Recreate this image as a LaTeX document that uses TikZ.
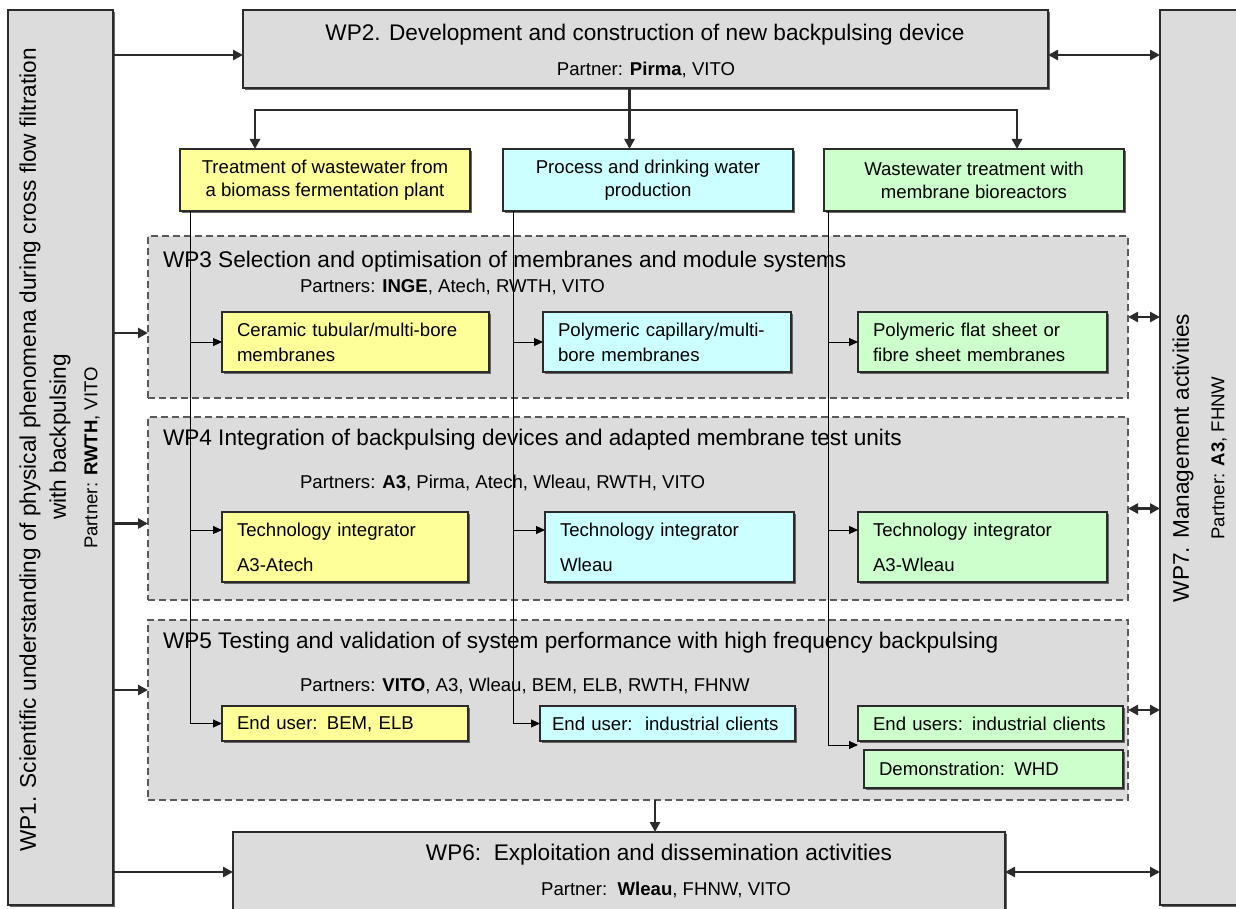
\documentclass[tikz,border=0pt]{standalone}
\usepackage{fontspec}
\setmainfont{Liberation Sans}
\usepackage{xcolor}
\usepackage{tikz}
\usetikzlibrary{calc}
\usetikzlibrary{arrows.meta}
\usetikzlibrary{shadows}

\definecolor{wpgray}{HTML}{DCDCDC}
\definecolor{wpyellow}{HTML}{FFFF99}
\definecolor{wpcyan}{HTML}{CCFFFF}
\definecolor{wpgreen}{HTML}{CCFFCC}
\definecolor{wpedge}{HTML}{2B2B2B}
\definecolor{wpdash}{HTML}{5A5A5A}

\newcommand{\wptitle}{\fontsize{22.6}{26}\selectfont}
\newcommand{\wptext}{\fontsize{18.6}{22}\selectfont}

\begin{document}
\begin{tikzpicture}[x=1pt, y=-1pt, every node/.style={inner sep=0pt, outer sep=0pt, anchor=north west},
  boxshadow/.style={drop shadow={shadow xshift=1.6pt, shadow yshift=-1.6pt, fill=black!60, opacity=1}},
  wpbox/.style={draw=wpedge, line width=1.6pt, fill=wpgray, boxshadow},
  subwp/.style={draw=wpdash, line width=2.2pt, dash pattern=on 7pt off 4pt, fill=wpgray},
  appbox/.style={draw=wpedge, line width=1.4pt, font=\wptext, boxshadow},
  topbox/.style={appbox, minimum height=62pt, align=center},
  membox/.style={appbox, minimum height=60pt, align=left, inner xsep=15pt},
  techbox/.style={appbox, minimum height=70pt, align=left, inner xsep=15pt},
  userbox/.style={appbox, minimum height=35pt, align=left, inner xsep=15pt},
  label/.style={anchor=center},
  wparrow/.style={-{Triangle[length=10pt,width=10pt]}, line width=2.8pt, draw=wpedge},
  wpboth/.style={{Triangle[length=10pt,width=10pt]}-{Triangle[length=10pt,width=10pt]}, line width=2.8pt, draw=wpedge},
  feed/.style={-{Triangle[length=9pt,width=8pt]}, line width=1pt, draw=black}]

  \useasboundingbox[fill=white] (0,0) rectangle (1236,909);

  % side work packages
  \node[wpbox, minimum width=105pt, minimum height=895pt] (wp1) at (8,10) {};
  \node[label, rotate=90] (wp1a) at (30,450) {\wptitle WP1. Scientific understanding of physical phenomena during cross flow filtration};
  \node[label, rotate=90] (wp1b) at (60,437) {\wptitle with backpulsing};
  \node[label, rotate=90] (wp1c) at (92,458) {\wptext Partner: \textbf{RWTH}, VITO};

  \node[wpbox, minimum width=100pt, minimum height=895pt] (wp7) at (1160,10) {};
  \node[label, rotate=90] (wp7a) at (1183,458) {\wptitle WP7. Management activities};
  \node[label, rotate=90] (wp7b) at (1219,458) {\wptext Partner: \textbf{A3}, FHNW};

  % WP2 and the three applications
  \node[wpbox, minimum width=805pt, minimum height=78pt] (wp2) at (243,10) {};
  \node[label] (wp2a) at (645,35) {\wptitle WP2. Development and construction of new backpulsing device};
  \node[label] (wp2b) at (646,70) {\wptext Partner: \textbf{Pirma}, VITO};

  \node[topbox, fill=wpyellow, minimum width=290pt] (top1) at (180,149) {Treatment of wastewater from\\[1pt]a biomass fermentation plant};
  \node[topbox, fill=wpcyan, minimum width=290pt] (top2) at (503,149) {Process and drinking water\\[1pt]production};
  \node[topbox, fill=wpgreen, minimum width=300pt] (top3) at (824,149) {Wastewater treatment with\\[1pt]membrane bioreactors};

  % WP3
  \node[subwp, minimum width=980pt, minimum height=162pt] (wp3) at (148,236) {};
  \node[anchor=west] (wp3a) at (163,262) {\wptitle WP3 Selection and optimisation of membranes and module systems};
  \node[anchor=west] (wp3b) at (300,287) {\wptext Partners: \textbf{INGE}, Atech, RWTH, VITO};
  \node[membox, fill=wpyellow, text width=237pt] (mem1) at (222,312) {Ceramic tubular/multi-bore\\[3pt]membranes};
  \node[membox, fill=wpcyan, text width=218pt] (mem2) at (543,312) {Polymeric capillary/multi-\\[3pt]bore membranes};
  \node[membox, fill=wpgreen, text width=219pt] (mem3) at (858,312) {Polymeric flat sheet or\\[3pt]fibre sheet membranes};

  % WP4
  \node[subwp, minimum width=980pt, minimum height=183pt] (wp4) at (148,417) {};
  \node[anchor=west] (wp4a) at (163,440) {\wptitle WP4 Integration of backpulsing devices and adapted membrane test units};
  \node[anchor=west] (wp4b) at (300,483) {\wptext Partners: \textbf{A3}, Pirma, Atech, Wleau, RWTH, VITO};
  \node[techbox, fill=wpyellow, text width=216pt] (tech1) at (222,512) {Technology integrator\\[13pt]A3-Atech};
  \node[techbox, fill=wpcyan, text width=219pt] (tech2) at (545,512) {Technology integrator\\[13pt]Wleau};
  \node[techbox, fill=wpgreen, text width=219pt] (tech3) at (858,512) {Technology integrator\\[13pt]A3-Wleau};

  % WP5
  \node[subwp, minimum width=980pt, minimum height=180pt] (wp5) at (148,620) {};
  \node[anchor=west] (wp5a) at (163,643) {\wptitle WP5 Testing and validation of system performance with high frequency backpulsing};
  \node[anchor=west] (wp5b) at (300,686) {\wptext Partners: \textbf{VITO}, A3, Wleau, BEM, ELB, RWTH, FHNW};
  \node[userbox, fill=wpyellow, text width=216pt] (end1) at (222,706) {End user: BEM, ELB};
  \node[userbox, fill=wpcyan, text width=231pt, inner xsep=12pt] (end2) at (540,706) {\mbox{End user:\ \ industrial clients}};
  \node[userbox, fill=wpgreen, text width=235pt] (end3) at (858,706) {End users: industrial clients};
  \node[userbox, fill=wpgreen, text width=229pt, minimum height=38pt] (demo) at (864,750) {Demonstration: WHD};

  % WP6
  \node[wpbox, minimum width=772pt, minimum height=90pt] (wp6) at (233,832) {};
  \node[label] (wp6a) at (659,855) {\wptitle WP6:\ \ Exploitation and dissemination activities};
  \node[label] (wp6b) at (666,890) {\wptext Partner:\ \ \textbf{Wleau}, FHNW, VITO};

  % WP1 feeds everything
  \coordinate (in3) at ($(wp3.west)+(0,16)$);
  \coordinate (in4) at ($(wp4.west)+(0,15)$);
  \coordinate (in5) at ($(wp5.west)+(0,-20)$);
  \draw[wparrow] (wp1.east |- wp2.west) ++(0,6) -- ($(wp2.west)+(0,6)$);
  \draw[wparrow] (wp1.east |- in3) -- (in3);
  \draw[wparrow] (wp1.east |- in4) -- (in4);
  \draw[wparrow] (wp1.east |- in5) -- (in5);
  \draw[wparrow] (wp1.east |- wp6.west) ++(0,-5) -- ($(wp6.west)+(0,-5)$);

  % links with WP7
  \draw[wpboth] ($(wp2.east)+(0,6)$) -- ($(wp7.west |- wp2.east)+(0,6)$);
  \draw[wpboth] (wp3.east) -- (wp7.west |- wp3.east);
  \draw[wpboth] (wp4.east) -- (wp7.west |- wp4.east);
  \draw[wpboth] (wp5.east) -- (wp7.west |- wp5.east);
  \draw[wpboth] ($(wp6.east)+(0,-5)$) -- ($(wp7.west |- wp6.east)+(0,-5)$);

  % WP2 splits into the applications
  \coordinate (split) at ($(wp2.south)+(-16,0)$);
  \coordinate (bar) at ($(split)+(0,22)$);
  \coordinate (drop1) at ($(top1.north west)+(75,0)$);
  \coordinate (drop3) at ($(top3.north east)+(-107,0)$);
  \draw[wparrow] (split) -- (split |- top2.north);
  \draw[wparrow] (bar) -| (drop1);
  \draw[wparrow] (bar) -| (drop3);

  % application lines through WP3-WP5
  \coordinate (c1) at ($(top1.south west)+(10,0)$);
  \coordinate (c2) at ($(top2.south west)+(10,0)$);
  \coordinate (c3) at ($(top3.south west)+(4,0)$);
  \coordinate (t1) at ($(tech1.north west)+(0,18)$);
  \coordinate (t2) at ($(tech2.north west)+(0,18)$);
  \coordinate (t3) at ($(tech3.north west)+(0,18)$);
  \coordinate (e3) at ($(end3.south west)+(0,4)$);
  \draw[feed] (c1) |- (end1.west);
  \draw[feed] (c1 |- mem1.west) -- (mem1.west);
  \draw[feed] (c1 |- t1) -- (t1);
  \draw[feed] (c2) |- (end2.west);
  \draw[feed] (c2 |- mem2.west) -- (mem2.west);
  \draw[feed] (c2 |- t2) -- (t2);
  \draw[feed] (c3) |- (e3);
  \draw[feed] (c3 |- mem3.west) -- (mem3.west);
  \draw[feed] (c3 |- t3) -- (t3);

  % WP5 results go to WP6
  \coordinate (out5) at ($(wp5.south)+(17,0)$);
  \draw[wparrow] (out5) -- (out5 |- wp6.north);
\end{tikzpicture}
\end{document}
